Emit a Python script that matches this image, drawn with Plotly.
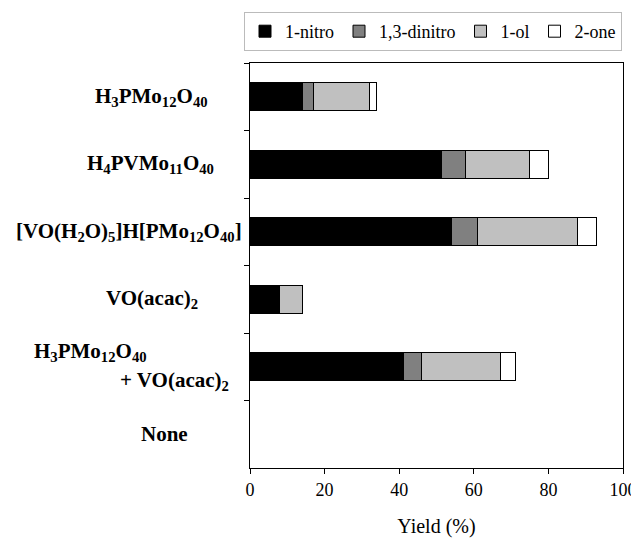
import plotly.graph_objects as go

categories = ["H3PMo12O40", "H4PVMo11O40", "[VO(H2O)5]H[PMo12O40]",
              "VO(acac)2", "H3PMo12O40 + VO(acac)2", "None"]
cat_labels = [
    "H<sub>3</sub>PMo<sub>12</sub>O<sub>40</sub>",
    "H<sub>4</sub>PVMo<sub>11</sub>O<sub>40</sub>",
    "[VO(H<sub>2</sub>O)<sub>5</sub>]H[PMo<sub>12</sub>O<sub>40</sub>]",
    "VO(acac)<sub>2</sub>",
    None,
    "None",
]
series_names = ["1-nitro", "1,3-dinitro", "1-ol", "2-one"]
nitro = [14.1, 51.3, 54.0, 7.9, 41.1, 0]
dinitro = [2.9, 6.5, 7.0, 0, 5.0, 0]
ol = [15.0, 17.2, 26.9, 6.2, 21.0, 0]
one = [2.0, 5.1, 5.1, 0, 4.0, 0]
x_ticks = [0, 20, 40, 60, 80, 100]

colors = ["#000000", "#808080", "#c0c0c0", "#ffffff"]
serif = "Liberation Serif, Times New Roman, serif"

# page body has an 8px margin; figure is drawn from (8, 8)
OFF = 8
W, H = 639 - OFF, 539 - OFF
ML, MR, MT, MB = 250 - OFF, 16, 63 - OFF, 71
PW = W - ML - MR

fig = go.Figure()
for name, vals, col in zip(series_names, [nitro, dinitro, ol, one], colors):
    fig.add_trace(go.Bar(
        y=categories, x=vals, name=name, orientation="h",
        marker=dict(color=col, line=dict(color="#000000",
                                         width=[1 if v else 0 for v in vals])),
        width=0.42,
    ))

# label centres in page pixels
label_centers = [151, 150, 129, 152, None, 164]
for cat, lab, cx in zip(categories, cat_labels, label_centers):
    if lab is None:
        continue
    fig.add_annotation(
        x=(cx - 250) / PW, xref="paper", y=cat, yref="y",
        text="<b>" + lab + "</b>", showarrow=False, xanchor="center",
        font=dict(family=serif, size=21, color="#000000"),
    )
# two-line label for the mixture
fig.add_annotation(
    x=(90 - 250) / PW, xref="paper", y=categories[4], yref="y", yshift=15,
    text="<b>H<sub>3</sub>PMo<sub>12</sub>O<sub>40</sub></b>", showarrow=False,
    xanchor="center", font=dict(family=serif, size=21, color="#000000"),
)
fig.add_annotation(
    x=(174 - 250) / PW, xref="paper", y=categories[4], yref="y", yshift=-14,
    text="<b>+ VO(acac)<sub>2</sub></b>", showarrow=False,
    xanchor="center", font=dict(family=serif, size=21, color="#000000"),
)

fig.update_layout(
    barmode="stack",
    width=W, height=H,
    margin=dict(l=ML, r=MR, t=MT, b=MB, autoexpand=False),
    paper_bgcolor="white", plot_bgcolor="white",
    font=dict(family=serif, size=18, color="#000000"),
    showlegend=True,
    legend=dict(
        orientation="h", xref="container", yref="container",
        x=(622 - OFF) / W, xanchor="right", y=1 - (12 - OFF) / H, yanchor="top",
        bordercolor="#bbbbbb", borderwidth=1, bgcolor="white",
        font=dict(family=serif, size=18), traceorder="normal",
        itemwidth=30,
    ),
    xaxis=dict(
        range=[0, 100], tickvals=x_ticks, ticks="outside", ticklen=5,
        tickcolor="#000000", showline=True, linecolor="#000000", linewidth=1,
        mirror=True, showgrid=False, zeroline=False, automargin=False,
        title=dict(text="Yield (%)", font=dict(family=serif, size=20), standoff=20),
        tickfont=dict(family=serif, size=18),
    ),
    yaxis=dict(
        type="category", categoryorder="array", categoryarray=categories,
        autorange="reversed", tickson="boundaries", ticks="outside", ticklen=5,
        tickcolor="#000000", showticklabels=False, showline=True,
        linecolor="#000000", linewidth=1, mirror=True, showgrid=False,
        zeroline=False, automargin=False,
    ),
)

fig.write_html("out.html")
